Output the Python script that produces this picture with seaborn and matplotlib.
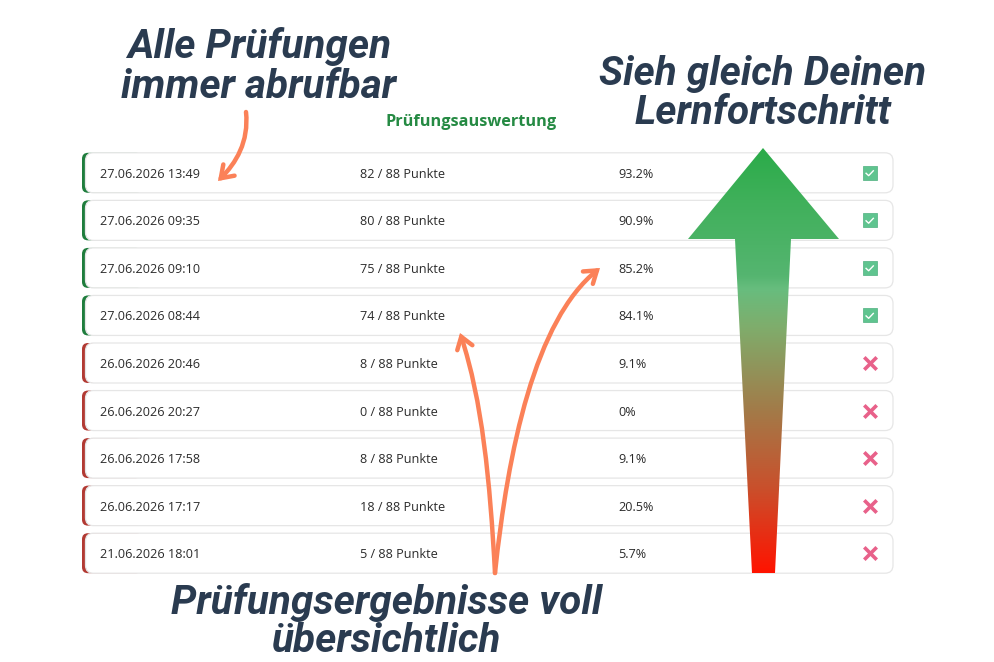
import numpy as np
import pandas as pd
import seaborn as sns
import matplotlib
matplotlib.use("Agg")
import matplotlib.pyplot as plt
from matplotlib.patches import FancyBboxPatch, Polygon, FancyArrowPatch
from matplotlib.path import Path
from matplotlib.colors import LinearSegmentedColormap

dates = ["27.06.2026 13:49", "27.06.2026 09:35", "27.06.2026 09:10", "27.06.2026 08:44",
         "26.06.2026 20:46", "26.06.2026 20:27", "26.06.2026 17:58", "26.06.2026 17:17",
         "21.06.2026 18:01"]
punkte = [82, 80, 75, 74, 8, 0, 8, 18, 5]
prozent = ["93.2%", "90.9%", "85.2%", "84.1%", "9.1%", "0%", "9.1%", "20.5%", "5.7%"]
bestanden = [True, True, True, True, False, False, False, False, False]
max_punkte = 88

sns.set_theme(style="white")
plt.rcParams["font.family"] = ["Open Sans", "DejaVu Sans"]

fig = plt.figure(figsize=(9.94, 6.62), dpi=100, facecolor="white")
ax = fig.add_axes([0, 0, 1, 1])
ax.set_xlim(0, 994)
ax.set_ylim(662, 0)
ax.axis("off")

TXT = "#2b2b2b"
HEAD = "#2a3b50"
ORANGE = "#fb8158"
row_y = 172.8 + np.arange(len(dates)) * 47.55

for y, ok, d, p, pc in zip(row_y, bestanden, dates, punkte, prozent):
    accent = "#1f7d3d" if ok else "#b23a33"
    ax.add_patch(FancyBboxPatch((82, y - 20), 60, 40, boxstyle="round,pad=0,rounding_size=6",
                                fc=accent, ec="none", zorder=1))
    ax.add_patch(FancyBboxPatch((85.5, y - 20), 807.5, 40, boxstyle="round,pad=0,rounding_size=8",
                                fc="white", ec="#e6e6e6", lw=0.9, zorder=2))
    ax.text(99.5, y + 1.5, d, fontsize=9.1, color=TXT, va="center", ha="left", zorder=3)
    ax.text(359.5, y + 1.5, f"{p} / {max_punkte} Punkte", fontsize=9.1, color=TXT, va="center", ha="left", zorder=3)
    ax.text(618, y + 1.5, pc, fontsize=9.1, color=TXT, va="center", ha="left", zorder=3)

# status icons through seaborn
df = pd.DataFrame({"x": np.full(len(dates), 869.5), "y": row_y, "ok": bestanden})
sns.scatterplot(data=df[df.ok], x="x", y="y", marker="s", s=95, color="#5fc48f",
                edgecolor="#4fb07f", linewidth=0.5, ax=ax, zorder=4, legend=False)
check = Path([(-0.55, 0.0), (-0.12, -0.4), (0.6, 0.35)], [Path.MOVETO, Path.LINETO, Path.LINETO])
ax.scatter(df[df.ok].x, df[df.ok].y, marker=check, s=38, facecolor="none", edgecolor="white",
           linewidth=1.0, zorder=5)
sns.scatterplot(data=df[~df.ok], x="x", y="y", marker="x", s=80, color="#e8618a",
                linewidth=2.6, ax=ax, zorder=4, legend=False)

ax.set_xlabel("")
ax.set_ylabel("")
ax.set_xlim(0, 994)
ax.set_ylim(662, 0)

# big gradient arrow
shape = [(763, 148), (839, 239), (791, 239), (775, 573), (752, 573), (735, 239), (688, 239)]
cmap = LinearSegmentedColormap.from_list("lern", [(0, "#2aab49"), (0.12, "#3fb05a"), (0.3, "#55b570"),
                                                  (0.33, "#67bd7e"), (0.42, "#7fad6c"), (0.62, "#a37a48"),
                                                  (0.8, "#c9502c"), (1, "#ff1300")])
poly = Polygon(shape, closed=True, fc="none", ec="none", zorder=6)
ax.add_patch(poly)
im = ax.imshow(np.linspace(0, 1, 256).reshape(-1, 1), cmap=cmap, extent=(680, 845, 573, 148),
               aspect="auto", zorder=6, interpolation="bilinear")
im.set_clip_path(poly)
ax.set_xlim(0, 994)
ax.set_ylim(662, 0)

# hand-drawn arrows
arrow_paths = [
    [(246, 112), (249, 142), (236, 163), (218, 181)],
    [(495, 573), (490, 480), (482, 400), (460, 333)],
    [(495, 573), (508, 450), (535, 320), (600, 268)],
]
for pts in arrow_paths:
    path = Path(pts, [Path.MOVETO, Path.CURVE4, Path.CURVE4, Path.CURVE4])
    ax.add_patch(FancyArrowPatch(path=path, arrowstyle="->,head_length=3.2,head_width=2.2",
                                 color=ORANGE, lw=3.2, zorder=7, mutation_scale=2.6,
                                 capstyle="round", joinstyle="miter"))

# headings
hk = dict(family="Roboto", weight="bold", style="italic", color=HEAD, ha="center", va="center",
          fontsize=29.2, zorder=8, linespacing=1.0)
ax.text(259, 47, "Alle Prüfungen", **hk)
ax.text(259, 87, "immer abrufbar", **hk)
ax.text(763, 74, "Sieh gleich Deinen", **hk)
ax.text(763, 113, "Lernfortschritt", **hk)
ax.text(387, 602.5, "Prüfungsergebnisse voll", **hk)
ax.text(387, 641.5, "übersichtlich", **hk)
ax.text(471, 122.5, "Prüfungsauswertung", family="Open Sans", weight="bold", color="#258a43",
        fontsize=11.7, ha="center", va="center", zorder=8)

fig.savefig("out.png", dpi=100)
